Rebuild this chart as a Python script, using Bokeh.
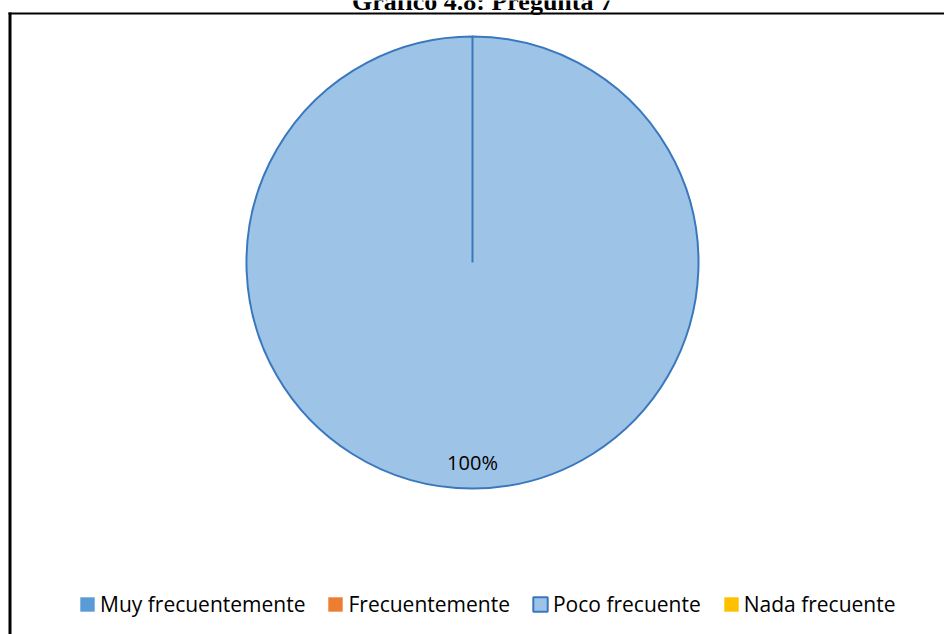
import numpy as np
from bokeh.plotting import figure
from bokeh.models import Range1d, ColumnDataSource
from bokeh.core.properties import value
from bokeh.embed import file_html
from bokeh.resources import INLINE

title_text = "Gráfico 4.8: Pregunta 7"
categories = ["Muy frecuentemente", "Frecuentemente", "Poco frecuente", "Nada frecuente"]
values = [0, 0, 100, 0]
fill_colors = ["#5B9BD5", "#ED7D31", "#9DC3E6", "#FFC000"]
line_colors = ["#5B9BD5", "#ED7D31", "#3A78BE", "#FFC000"]
line_alphas = [0.0, 0.0, 1.0, 0.0]

W, H = 944, 634
cx, cy = 472, H - 262
R = 226

vals = np.array(values, dtype=float)
frac = vals / vals.sum()
cum = np.concatenate([[0], np.cumsum(frac)])
start = np.pi / 2 - 2 * np.pi * cum[:-1]
span = np.minimum(2 * np.pi * frac, 2 * np.pi - 1e-4)
end = start - span
mid = start - span / 2
radii = [R if v > 0 else 0 for v in values]

src = ColumnDataSource(dict(cat=categories, start=start, end=end, r=radii,
                            fill=fill_colors, line=line_colors, la=line_alphas,
                            x=[cx] * 4, y=[cy] * 4))

p = figure(width=W, height=H, output_backend="svg", toolbar_location=None,
           x_range=Range1d(0, W), y_range=Range1d(0, H), min_border=0,
           title_location=None)
p.title.visible = False
p.axis.visible = False
p.grid.visible = False
p.outline_line_color = None
p.background_fill_color = "white"
p.border_fill_color = "white"

p.wedge(x="x", y="y", radius="r", radius_units="screen", start_angle="start", end_angle="end",
        direction="clock", fill_color="fill", line_color="line", line_alpha="la",
        line_width=2, source=src, legend_field="cat")

# percent label for nonzero slices
lab_idx = [i for i, v in enumerate(values) if v > 0]
lx = [cx + 0.885 * R * np.cos(mid[i]) for i in lab_idx]
ly = [cy + 0.885 * R * np.sin(mid[i]) for i in lab_idx]
lt = [f"{round(frac[i]*100)}%" for i in lab_idx]
p.text(x=lx, y=ly, text=lt, text_font=value("Open Sans"), text_font_size="20px",
       text_align="center", text_baseline="middle", text_color="#000000")

# title (partly cut off at top, as in the reference)
p.text(x=[W / 2 + 10], y=[H - 1], text=[title_text], text_font=value("Liberation Serif"),
       text_font_size="26px", text_font_style="bold", text_align="center",
       text_baseline="alphabetic", text_color="black")

# frame
p.segment(x0=[8, 9.5], y0=[H - 13, H - 12], x1=[W, 9.5], y1=[H - 13, 0],
          line_color="black", line_width=[2, 3])

lg = p.legend[0]
lg.orientation = "horizontal"
lg.location = (78, 16)
lg.glyph_width = 18
lg.glyph_height = 18
lg.label_standoff = 4
lg.spacing = 21
lg.padding = 0
lg.margin = 0
lg.border_line_alpha = 0
lg.background_fill_alpha = 0
lg.label_text_font = "Open Sans"
lg.label_text_font_size = "21px"
lg.label_text_color = "#000000"
lg.label_height = 18

open("out.html", "w").write(file_html(p, INLINE))
